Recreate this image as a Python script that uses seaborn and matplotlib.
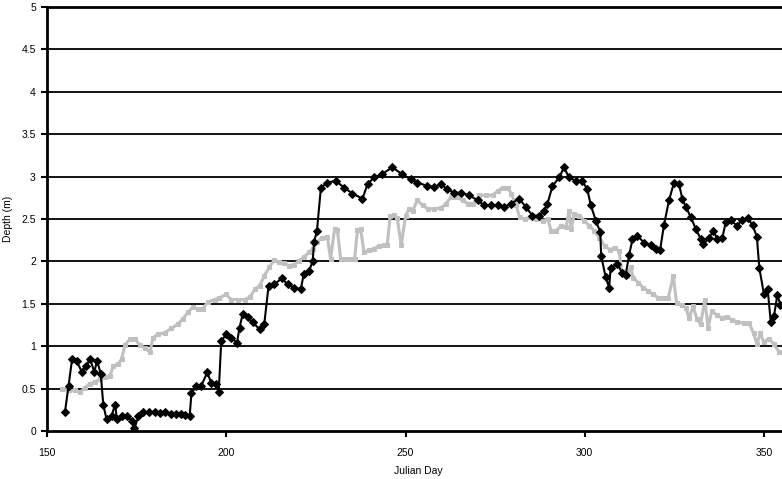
import matplotlib
matplotlib.use("Agg")
import matplotlib.pyplot as plt
import seaborn as sns
import pandas as pd

# Black series (diamonds)
black_day = [155, 156, 157, 158.3, 159.7, 161, 162, 163.2, 164, 165, 165.7, 166.6, 168, 169, 169.5,
             171, 172.2, 173.6, 174.4, 175.5, 176.9, 178.5, 180, 181.5, 183, 184.5, 186, 187.5, 188.4,
             189.8, 190.3, 191.7, 193, 194.7, 195.8, 197.2, 197.9, 198.6, 200, 201.4, 203, 203.7,
             204.6, 206, 207.4, 209.3, 210.6, 211.8, 213.4, 215.5, 217.1, 219, 220.8, 221.6, 223.1,
             224.1, 224.5, 225.3, 226.4, 228.2, 230.5, 232.9, 235.2, 238, 239.4, 241.2, 243.5, 246.3,
             249, 251.4, 253.3, 256.1, 258, 259.9, 261.7, 263.6, 265.4, 267.8, 270.1, 272, 273.8,
             275.7, 277.5, 279.4, 281.7, 283.6, 285.4, 287.3, 288.7, 289.6, 291, 292.9, 294.2, 295.6,
             297.5, 299.3, 300.7, 301.7, 303.1, 304.3, 304.6, 305.8, 306.8, 307.2, 309.1, 310.5,
             311.4, 312.4, 313.3, 314.7, 316.6, 318.4, 319.8, 321, 322.1, 323.5, 324.9, 326.3, 327.2,
             328.2, 329.6, 331, 332.4, 333.1, 334.7, 335.9, 337, 338.4, 339.3, 340.7, 342.4, 344,
             345.4, 346.8, 348, 348.7, 350, 351, 351.9, 352.8, 353.7, 354.6]
black_depth = [0.22, 0.53, 0.85, 0.82, 0.70, 0.77, 0.85, 0.70, 0.83, 0.67, 0.31, 0.14, 0.18, 0.31, 0.14,
               0.18, 0.18, 0.12, 0.03, 0.18, 0.22, 0.22, 0.22, 0.21, 0.22, 0.20, 0.20, 0.20, 0.19,
               0.18, 0.45, 0.53, 0.53, 0.69, 0.57, 0.55, 0.46, 1.06, 1.14, 1.10, 1.04, 1.22,
               1.38, 1.34, 1.28, 1.20, 1.26, 1.71, 1.73, 1.80, 1.73, 1.69, 1.67, 1.85, 1.89,
               2.00, 2.23, 2.36, 2.87, 2.93, 2.95, 2.87, 2.80, 2.74, 2.91, 2.99, 3.03, 3.11,
               3.03, 2.97, 2.93, 2.89, 2.88, 2.91, 2.85, 2.81, 2.81, 2.78, 2.72, 2.66, 2.66,
               2.66, 2.64, 2.68, 2.74, 2.64, 2.54, 2.54, 2.60, 2.68, 2.89, 2.99, 3.11, 2.99,
               2.95, 2.95, 2.85, 2.66, 2.48, 2.35, 2.06, 1.82, 1.69, 1.92, 1.97, 1.86,
               1.84, 2.08, 2.26, 2.30, 2.22, 2.19, 2.15, 2.13, 2.43, 2.72, 2.93, 2.91, 2.74,
               2.64, 2.52, 2.38, 2.26, 2.20, 2.28, 2.36, 2.26, 2.28, 2.46, 2.49, 2.42, 2.49,
               2.51, 2.43, 2.29, 1.92, 1.61, 1.68, 1.28, 1.36, 1.60, 1.49]

# Gray series (squares)
gray_day = [154.2, 156, 157.9, 159.3, 160.6, 162, 163.4, 164.8, 166.2, 167.6, 168.5, 169.9, 170.8,
            171.8, 173.1, 174.5, 175.9, 177.3, 178.7, 179.6, 181, 182.9, 184.7, 186.5, 187.9, 189.3,
            190.7, 192.1, 193.4, 194.8, 196.8, 198.1, 200, 201.4, 203.2, 205.1, 206.7, 207.9, 209.3,
            210.6, 212, 213.4, 214.7, 216.1, 217.5, 218.9, 220.3, 221.7, 223.1, 224.3, 225.4, 226.8,
            228.2, 229.1, 230.2, 231, 231.9, 233.3, 234.7, 235.8, 236.6, 237.5, 238.4, 239.8, 241.2,
            242.6, 244, 244.9, 245.7, 246.8, 247.7, 248.8, 250, 251, 252, 253.3, 254.8, 256.2, 258,
            259.9, 261.3, 262.7, 264.1, 265.9, 267.4, 268.8, 270.6, 272.5, 274.3, 275.7, 277.1,
            278.5, 279.5, 280.9, 281.8, 283.2, 284.6, 286.4, 288.3, 289.7, 290.6, 292, 293.4, 294.8,
            295.6, 296.2, 297.1, 298.5, 299.9, 301.3, 302.7, 304.1, 305.6, 307, 308.4, 309.6, 310.3,
            311.7, 312.8, 313.5, 314.9, 316.3, 317.7, 319.1, 320.5, 321.9, 323.3, 324.7, 325.6, 327,
            328.2, 329.1, 330.2, 331.3, 332.3, 333.5, 334.4, 335.4, 336.8, 338.2, 339.6, 341, 342.4,
            344.3, 345.9, 347.1, 348, 349, 349.9, 351.3, 352.7, 354.2]
gray_depth = [0.49, 0.48, 0.48, 0.46, 0.51, 0.56, 0.58, 0.61, 0.64, 0.65, 0.77, 0.79, 0.85,
              1.02, 1.08, 1.09, 1.01, 0.98, 0.93, 1.10, 1.14, 1.16, 1.21, 1.26, 1.32, 1.40,
              1.46, 1.44, 1.44, 1.52, 1.55, 1.57, 1.61, 1.55, 1.55, 1.55, 1.58, 1.67, 1.71,
              1.83, 1.93, 2.02, 1.99, 1.98, 1.95, 1.96, 2.01, 2.05, 2.11, 2.15, 2.23, 2.28,
              2.29, 2.03, 2.38, 2.37, 2.03, 2.03, 2.03, 2.03, 2.37, 2.38, 2.11, 2.13, 2.15,
              2.18, 2.19, 2.19, 2.53, 2.55, 2.51, 2.19, 2.53, 2.62, 2.60, 2.72, 2.66, 2.62, 2.62,
              2.63, 2.68, 2.76, 2.76, 2.72, 2.68, 2.68, 2.78, 2.78, 2.78, 2.83, 2.87,
              2.87, 2.80, 2.66, 2.52, 2.50, 2.52, 2.50, 2.48, 2.50, 2.36, 2.36, 2.42, 2.40,
              2.60, 2.38, 2.56, 2.54, 2.48, 2.42, 2.36, 2.28, 2.18, 2.14, 2.16, 2.12, 1.89,
              1.83, 1.93, 1.81, 1.75, 1.69, 1.65, 1.61, 1.57, 1.57, 1.57, 1.83, 1.51, 1.49,
              1.45, 1.33, 1.47, 1.32, 1.26, 1.54, 1.22, 1.41, 1.37, 1.33, 1.35, 1.31, 1.29,
              1.27, 1.27, 1.15, 1.03, 1.15, 1.05, 1.09, 1.03, 0.93]

y_ticks = [0, 0.5, 1, 1.5, 2, 2.5, 3, 3.5, 4, 4.5, 5]
y_tick_labels = ["0", "0.5", "1", "1.5", "2", "2.5", "3", "3.5", "4", "4.5", "5"]
x_ticks = [150, 200, 250, 300, 350]
x_tick_labels = ["150", "200", "250", "300", "350"]

sns.set_theme(style="white")
plt.rcParams['font.family'] = ['Liberation Sans Narrow', 'Liberation Sans', 'DejaVu Sans']

fig = plt.figure(figsize=(7.82, 4.79), dpi=100)
ax = fig.add_axes([47 / 782, 1 - 431 / 479, 1 - 47 / 782 + 0.01, (431 - 7) / 479])

df_gray = pd.DataFrame({"day": gray_day, "depth": gray_depth})
df_black = pd.DataFrame({"day": black_day, "depth": black_depth})

sns.lineplot(data=df_gray, x="day", y="depth", ax=ax, sort=False, estimator=None,
             color="#c0c0c0", linewidth=2.2, marker="s", markersize=3.5,
             markeredgecolor="#c0c0c0", zorder=3)
sns.lineplot(data=df_black, x="day", y="depth", ax=ax, sort=False, estimator=None,
             color="black", linewidth=1.5, marker="D", markersize=4,
             markeredgecolor="black", zorder=4)

ax.set_xlim(150, 357.2)
ax.set_ylim(0, 5)
ax.set_yticks(y_ticks)
ax.set_yticklabels(y_tick_labels)
ax.set_xticks(x_ticks)
ax.set_xticklabels(x_tick_labels)
for y in y_ticks[1:]:
    ax.axhline(y, color="black", linewidth=1.3, zorder=1)

for s in ["left", "bottom", "top"]:
    ax.spines[s].set_color("black")
    ax.spines[s].set_linewidth(2)
ax.spines["right"].set_visible(False)

ax.tick_params(axis="both", which="major", direction="out", length=4, width=1.5,
               color="black", labelsize=7.5, labelcolor="black",
               bottom=True, left=True, pad=8)
ax.tick_params(axis="y", pad=4)
ax.set_xlabel("Julian Day", fontsize=7.5, color="black", labelpad=6)
ax.set_ylabel("Depth (m)", fontsize=7.5, color="black", labelpad=6)

fig.savefig("out.png", dpi=100, facecolor="white")
